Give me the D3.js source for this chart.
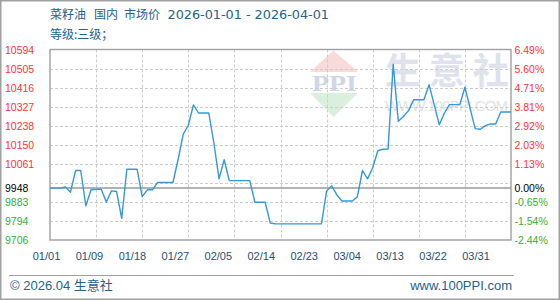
<!DOCTYPE html>
<html><head><meta charset="utf-8">
<script src="https://cdn.jsdelivr.net/npm/d3@7"></script>
<style>body{margin:0;background:#fff}svg{display:block}</style>
</head><body><svg id="c" width="560" height="300"></svg>
<script>
// ---- data ----
const startDate = new Date(2026, 0, 1);
const endDate = new Date(2026, 3, 1);
const prices = [
  9948, 9948, 9948, 9953, 9929, 10030, 10030, 9865, 9940, 9942,
  9943, 9883, 9935, 9932, 9807, 10036, 10036, 10036, 9908, 9940,
  9940, 9974, 9974, 9974, 9974, 10080, 10198, 10241, 10336, 10298,
  10298, 10298, 10157, 9991, 10080, 9983, 9983, 9983, 9983, 9983,
  9882, 9882, 9882, 9785, 9781, 9781, 9781, 9781, 9781, 9781,
  9781, 9781, 9781, 9781, 9935, 9959, 9916, 9888, 9888, 9888,
  9907, 10030, 9991, 10043, 10122, 10129, 10130, 10525, 10259, 10282,
  10309, 10360, 10360, 10360, 10430, 10337, 10243, 10298, 10337, 10337,
  10337, 10418, 10322, 10225, 10222, 10239, 10247, 10247, 10303, 10303,
  10303
];
const basePrice = 9948;
const yMin = 9706, yMax = 10594;
const leftTickValues = [10594, 10505.2, 10416.4, 10327.6, 10238.8, 10150, 10061.2, 9948, 9883.6, 9794.8, 9706];
const leftTickLabels = ["10594", "10505", "10416", "10327", "10238", "10150", "10061", "9948", "9883", "9794", "9706"];
const rightTickLabels = ["6.49%", "5.60%", "4.71%", "3.81%", "2.92%", "2.03%", "1.13%", "0.00%", "-0.65%", "-1.54%", "-2.44%"];
const gridValues = [9706, 9794.8, 9883.6, 9972.4, 10061.2, 10150, 10238.8, 10327.6, 10416.4, 10505.2, 10594];
const xLabels = ["01/01", "01/09", "01/18", "01/27", "02/05", "02/14", "02/23", "03/04", "03/13", "03/22", "03/31"];
const vGridCount = 10;

const dates = d3.timeDay.range(startDate, d3.timeDay.offset(endDate, 1));
const series = dates.map((d, i) => ({date: d, value: prices[i]}));

// ---- layout ----
const L = 50, R = 511, T = 49.5, B = 240;
const svg = d3.select("#c");
const x = d3.scaleTime().domain([startDate, endDate]).range([L, R]);
const y = d3.scaleLinear().domain([yMin, yMax]).range([B, T]);
const vx = d3.scaleLinear().domain([0, vGridCount]).range([L, R]);
const xl = d3.scalePoint().domain(xLabels).range([46, 475.5]);

const blue = "#22628f";
const red = "#ff3333", green = "#33b033";
const latin = "'DejaVu Sans', sans-serif";
const cjk = "'Noto Sans CJK SC', sans-serif";
const arial = "'Liberation Sans', Arial, 'Noto Sans CJK SC', sans-serif";

// outer frame
svg.append("rect").attr("x", 0.75).attr("y", 0.75).attr("width", 558.5).attr("height", 298.5)
  .attr("fill", "#fff").attr("stroke", "#a0a0a0").attr("stroke-width", 1.5);

// ---- watermark ----
const wm = svg.append("g");
wm.append("polygon").attr("points", "333.5,50.5 310,72 358,72").attr("fill", "#f8dada");
wm.append("polygon").attr("points", "310,93 358,93 333.5,117").attr("fill", "#daefdd");
wm.append("text").attr("x", 312).attr("y", 91).attr("textLength", 45).attr("lengthAdjust", "spacingAndGlyphs")
  .attr("font-family", "'Liberation Serif', serif").attr("font-weight", "bold").attr("font-size", 24)
  .attr("fill", "#cfd6e6").text("PPI");
wm.append("text").attr("x", 385).attr("y", 84).attr("font-family", cjk).attr("font-weight", "bold")
  .attr("font-size", 36).attr("letter-spacing", 8).attr("fill", "#dde2ec").text("生意社");
wm.append("text").attr("x", 385).attr("y", 111).attr("font-family", arial)
  .attr("font-size", 15).attr("textLength", 123).attr("fill", "#e2e2e2").text("WWW.100PPI.COM");

// ---- grid ----
const grid = svg.append("g").attr("stroke", "#cccccc").attr("stroke-width", 1).attr("stroke-dasharray", "3,2");
grid.selectAll("line.h").data(gridValues.slice(1, -1)).join("line")
  .attr("x1", L).attr("x2", R).attr("y1", d => Math.round(y(d)) + 0.5).attr("y2", d => Math.round(y(d)) + 0.5);
grid.selectAll("line.v").data(d3.range(1, vGridCount)).join("line")
  .attr("y1", T).attr("y2", B).attr("x1", d => Math.round(vx(d)) + 0.5).attr("x2", d => Math.round(vx(d)) + 0.5);

// base line
svg.append("line").attr("x1", L).attr("x2", R).attr("y1", y(basePrice)).attr("y2", y(basePrice))
  .attr("stroke", "#999").attr("stroke-width", 1.5);

// plot frame
svg.append("rect").attr("x", L).attr("y", T).attr("width", R - L).attr("height", B - T)
  .attr("fill", "none").attr("stroke", "#a0a0a0").attr("stroke-width", 1.4);

// ---- line ----
const line = d3.line().x(d => x(d.date)).y(d => y(d.value));
svg.append("path").datum(series).attr("d", line).attr("fill", "none")
  .attr("stroke", "#3498db").attr("stroke-width", 1.4).attr("stroke-linejoin", "round");

// ---- axes ----
const colorFor = v => Math.abs(v - basePrice) < 0.5 ? "#000" : (v > basePrice ? red : green);
const leftAxis = d3.axisLeft(y).tickValues(leftTickValues).tickSize(0).tickPadding(0)
  .tickFormat((d, i) => leftTickLabels[i]);
const gl = svg.append("g").attr("transform", "translate(5,0)").call(leftAxis);
gl.select(".domain").remove();
gl.selectAll("text").attr("text-anchor", "start").attr("x", 0).attr("dy", "0.36em")
  .attr("font-family", arial).attr("font-size", 10.5).attr("fill", d => colorFor(d));

const rightAxis = d3.axisRight(y).tickValues(leftTickValues).tickSize(0).tickPadding(0)
  .tickFormat((d, i) => rightTickLabels[i]);
const gr = svg.append("g").attr("transform", "translate(514.5,0)").call(rightAxis);
gr.select(".domain").remove();
gr.selectAll("text").attr("x", 0).attr("dy", "0.36em")
  .attr("font-family", arial).attr("font-size", 10.5).attr("fill", d => colorFor(d));

const bottomAxis = d3.axisBottom(xl).tickSize(0).tickPadding(0);
const gb = svg.append("g").attr("transform", "translate(0,252.5)").call(bottomAxis);
gb.select(".domain").remove();
gb.selectAll("text").attr("font-family", arial).attr("font-size", 11).attr("fill", "#1d4f78");

// ---- title ----
const title = svg.append("text").attr("y", 19).attr("fill", blue);
title.append("tspan").attr("x", 50).attr("font-family", cjk).attr("font-size", 12).text("菜籽油");
title.append("tspan").attr("x", 94).attr("font-family", cjk).attr("font-size", 12).text("国内");
title.append("tspan").attr("x", 124).attr("font-family", cjk).attr("font-size", 12).text("市场价");
title.append("tspan").attr("x", 167.5).attr("font-family", latin).attr("font-size", 12.8).text("2026-01-01 - 2026-04-01");
svg.append("text").attr("x", 50).attr("y", 39).attr("fill", blue).attr("font-family", cjk)
  .attr("font-size", 12).text("等级:三级；");

// ---- footer ----
svg.append("line").attr("x1", 9).attr("x2", 514).attr("y1", 275.5).attr("y2", 275.5)
  .attr("stroke", "#a0a0a0").attr("stroke-width", 1);
svg.append("text").attr("x", 10).attr("y", 290).attr("fill", blue).attr("font-family", arial)
  .attr("font-size", 13).text("© 2026.04 生意社");
svg.append("text").attr("x", 512).attr("y", 290).attr("text-anchor", "end").attr("fill", blue)
  .attr("font-family", arial).attr("font-size", 13).text("www.100PPI.com");
</script></body></html>
